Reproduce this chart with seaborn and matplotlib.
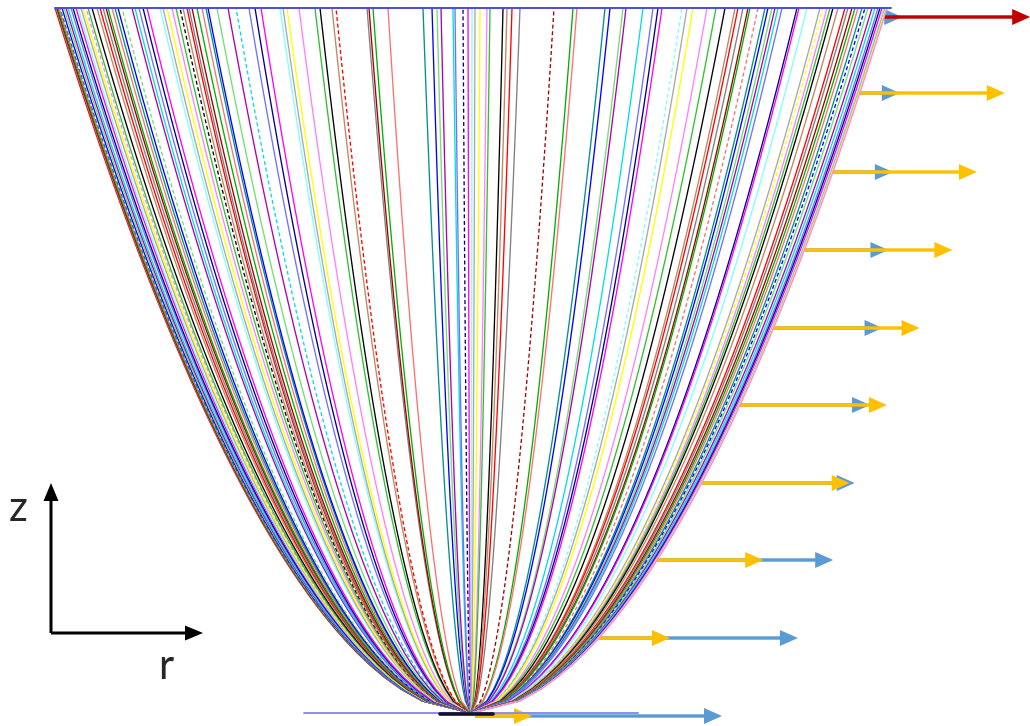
import numpy as np
import pandas as pd
import matplotlib
matplotlib.use('Agg')
import matplotlib.pyplot as plt
import seaborn as sns

# ── DATA ──────────────────────────────────────────────────────────────────────
# radius where each streamline meets the top (pixel-like units, r=0 at the axis)
left_r_top = [-416, -415, -414, -413, -412, -411, -409, -407, -405, -403, -400,
              -398, -395, -393, -390, -388, -385, -383, -379, -374, -371, -368,
              -365, -363, -359, -356, -353, -349, -339, -336, -332, -328, -324,
              -311, -308, -304, -299, -295, -291, -288, -284, -282, -279, -274,
              -269, -265, -263, -254, -243, -235, -222, -216, -210, -191, -188,
              -184, -172, -156, -151, -139, -135, -104, -102, -98, -83, -48,
              -39, -34, -30, -18, -16, -8, -3]
right_r_top = [1, 4, 9, 16, 19, 32, 36, 41, 49, 83, 102, 106, 134, 139, 152, 155,
               172, 182, 187, 191, 211, 216, 222, 236, 245, 254, 264, 267, 272,
               277, 279, 287, 294, 297, 301, 304, 307, 311, 326, 328, 336, 349,
               352, 356, 359, 362, 367, 374, 377, 381, 384, 387, 391, 394, 397,
               401, 404, 407, 409, 411, 413, 414, 415, 416]

top_z = 705          # height of the top surface
outer_r = 416        # outer streamline radius at the top
shape_exp = 1.9      # z ~ r^shape_exp

# velocity arrows on the right side: height, yellow length, blue length
arrow_z = [620, 541, 463, 385, 308, 230, 153, 75, -3]
yellow_len = [145, 144, 148, 146, 147, 148, 106, 71, 57]
blue_len = [40, 60, 84, 109, 130, 153, 176, 199, 247]
top_arrow_z = 696
red_len = 146
top_blue_len = 18

palette = ['#ff0000', '#00b000', '#0000ff', '#00e0e0', '#ff00ff', '#ffff00',
           '#000000', '#808080', '#ff7070', '#70e070', '#7070ff', '#80ffff',
           '#ff80ff', '#c08860', '#a00000', '#009090', '#b000b0', '#000080',
           '#a8a8a8', '#30c030']

# ── BUILD CURVES ──────────────────────────────────────────────────────────────
t = np.linspace(0, 1, 60)
rows = []
all_tops = list(left_r_top) + list(right_r_top)
for i, rt in enumerate(all_tops):
    r = rt * t ** (1 / shape_exp)
    z = top_z * t
    rows.append(pd.DataFrame({'r': r, 'z': z, 'curve': i, 'dashed': i % 11 == 5}))
df = pd.concat(rows, ignore_index=True)
colors = {i: palette[(i * 7) % len(palette)] for i in range(len(all_tops))}

# ── PLOT ──────────────────────────────────────────────────────────────────────
sns.set_style('white')
plt.rcParams['font.family'] = ['Lato', 'DejaVu Sans']

fig = plt.figure(figsize=(10.3, 7.26), dpi=100)
ax = fig.add_axes([0, 0, 1, 1])

sns.lineplot(data=df, x='r', y='z', hue='curve', style='dashed',
             dashes={False: '', True: (3, 2)}, palette=colors,
             estimator=None, sort=False, legend=False, linewidth=0.95, ax=ax)

# top surface and bottom plate
ax.plot([-416, 420], [top_z, top_z], color='#4b4bd6', lw=1.4)
ax.plot([-167, 167], [0, 0], color='#8c8cf0', lw=1.4)
ax.plot([-31, 22], [-1, -1], color='#101030', lw=2.6)


def outer_at(z):
    return outer_r * (max(z, 0) / top_z) ** (1 / shape_exp)


def arrow(x, z, length, color, w=3.4, hw=16, hl=18):
    ax.arrow(x, z, length, 0, width=w, head_width=hw, head_length=hl,
             length_includes_head=True, color=color, lw=0)


# velocity arrows
x0 = outer_at(top_arrow_z)
arrow(x0, top_arrow_z, top_blue_len, '#5b9bd5')
arrow(x0, top_arrow_z, red_len, '#c00000')
for z, yl, bl in zip(arrow_z, yellow_len, blue_len):
    x0 = outer_at(z) if z > 0 else 4
    arrow(x0, z, bl, '#5b9bd5')
    arrow(x0, z, yl, '#ffc000')

# r-z axes indicator
arrow(-420, 80, 152, 'black', w=3, hw=15, hl=18)
ax.arrow(-420, 80, 0, 150, width=3, head_width=15, head_length=18,
         length_includes_head=True, color='black', lw=0)
ax.text(-453, 204, 'z', fontsize=30, ha='center', va='center')
ax.text(-305, 46, 'r', fontsize=30, ha='center', va='center')

ax.set_xlim(-471, 559)
ax.set_ylim(-13, 713)
ax.axis('off')

plt.savefig('out.png', dpi=100)
plt.close()
